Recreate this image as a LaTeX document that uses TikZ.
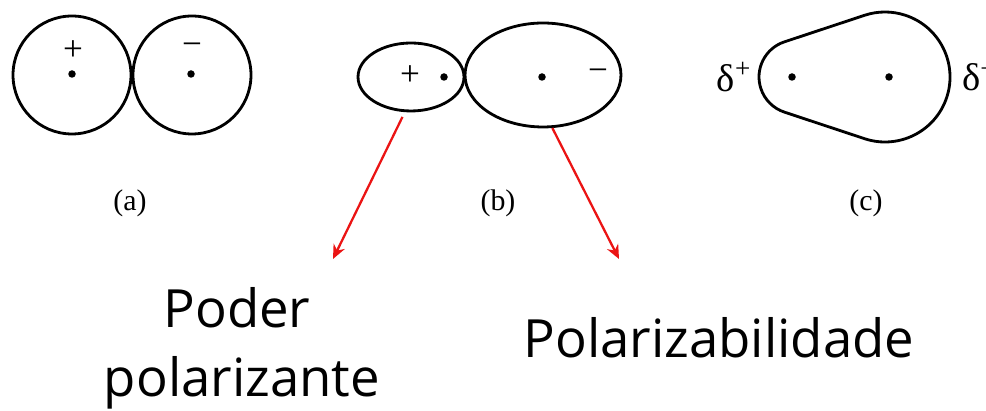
\documentclass[tikz,border=0pt]{standalone}
\usepackage{fontspec}
\setmainfont{Liberation Serif}
\newfontfamily\handfont{Open Sans}
\usetikzlibrary{shapes.geometric,positioning,arrows.meta}
\definecolor{arrowred}{RGB}{235,20,20}

\begin{document}
\begin{tikzpicture}[x=0.02cm, y=0.02cm, every node/.style={font=\fontsize{20}{22}\selectfont}]
  \tikzset{
    atom/.style={draw, line width=1.6pt, inner sep=0pt},
    nucleus/.style={circle, fill=black, inner sep=0pt, minimum size=0.15cm},
    caption/.style={font=\fontsize{17}{20}\selectfont},
    handtext/.style={font=\handfont\fontsize{30}{36}\selectfont, anchor=base},
    pointer/.style={draw=arrowred, line width=1.3pt, -{Stealth[length=8pt,width=7pt]}}
  }
  \clip (0,0) rectangle (986,411);

  % (a)
  \node[atom, circle, minimum size=2.36cm] (aL) at (72,336) {};
  \node[atom, circle, minimum size=2.36cm] (aR) at (192,336) {};
  \node[nucleus] (naL) at (72,337) {};
  \node[nucleus] (naR) at (191,337) {};
  \node (pa) at (73,360) {+};
  \node (ma) at (192,362) {−};
  \node[caption] (capa) at (130,208) {(a)};

  % (b)
  \node[atom, ellipse, minimum width=2.12cm, minimum height=1.36cm] (sml) at (411,334) {};
  \node[atom, ellipse, minimum width=3.12cm, minimum height=2.08cm] (big) at (543,336) {};
  \node[nucleus] (nbL) at (444,334) {};
  \node[nucleus] (nbR) at (542,334) {};
  \node (pb) at (410,335) {+};
  \node (mb) at (598,336) {−};
  \node[caption] (capb) at (498,208) {(b)};

  % (c)
  \draw[line width=1.6pt] ([shift={(108.34:37)}]796,334) arc[start angle=108.34, end angle=251.66, radius=37]
    -- ([shift={(251.66:65)}]885,334) arc[start angle=-108.34, end angle=108.34, radius=65] -- cycle;
  \node[nucleus] (ncL) at (792,334) {};
  \node[nucleus] (ncR) at (889,334) {};
  \node[font=\fontsize{22}{24}\selectfont] (dp) at (734,334) {δ\textsuperscript{+}};
  \node[font=\fontsize{22}{24}\selectfont, anchor=west] (dm) at (956,334) {δ\textsuperscript{−}};
  \node[caption] (capc) at (866,208) {(c)};

  % labels
  \node[handtext] (poder) at (237,83) {Poder};
  \node[handtext] (polz) at (242,14) {polarizante};
  \node[handtext] (polb) at (719,53) {Polarizabilidade};

  \coordinate (tipL) at (333,152);
  \coordinate (tipR) at (619,152);
  \draw[pointer, shorten <=3pt] (sml.-100) -- (tipL);
  \draw[pointer] (big.-80) -- (tipR);
\end{tikzpicture}
\end{document}
